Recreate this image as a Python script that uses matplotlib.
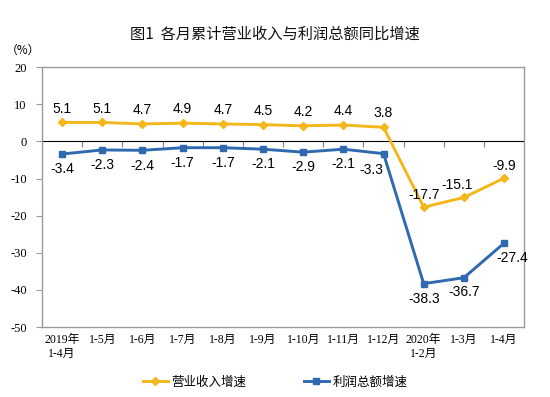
import matplotlib
matplotlib.use("Agg")
import matplotlib.pyplot as plt
import numpy as np

plt.rcParams['font.family'] = ['Noto Sans CJK SC', 'DejaVu Sans']

categories = ["2019年\n1-4月", "1-5月", "1-6月", "1-7月", "1-8月", "1-9月", "1-10月",
              "1-11月", "1-12月", "2020年\n1-2月", "1-3月", "1-4月"]
revenue = [5.1, 5.1, 4.7, 4.9, 4.7, 4.5, 4.2, 4.4, 3.8, -17.7, -15.1, -9.9]
profit = [-3.4, -2.3, -2.4, -1.7, -1.7, -2.1, -2.9, -2.1, -3.3, -38.3, -36.7, -27.4]
yticks = [20, 10, 0, -10, -20, -30, -40, -50]

# label offsets in points (dx, dy)
rev_off = [(0, 10)] * 9 + [(0, 9), (-5, 9), (0, 9)]
pro_off = [(0, -11)] * 8 + [(-9, -12), (0, -11), (0, -10), (6, -11)]

yellow = "#F4B71B"
blue = "#2F6AB1"
frame = "#9a9a9a"

fig = plt.figure(figsize=(5.5, 3.97), dpi=100)
ax = fig.add_axes([0.0764, 0.176, 0.8766, 0.655])
x = np.arange(len(categories))

ax.plot(x, revenue, color=yellow, lw=2.1, marker='D', ms=4.5, label="营业收入增速", zorder=3)
ax.plot(x, profit, color=blue, lw=2.1, marker='s', ms=4.5, label="利润总额增速", zorder=3)

for xi, v, (dx, dy) in zip(x, revenue, rev_off):
    ax.annotate(f"{v:.1f}", (xi, v), xytext=(dx, dy), textcoords='offset points',
                ha='center', va='center', fontsize=10, family=['Liberation Sans'])
for xi, v, (dx, dy) in zip(x, profit, pro_off):
    ax.annotate(f"{v:.1f}", (xi, v), xytext=(dx, dy), textcoords='offset points',
                ha='center', va='center', fontsize=10, family=['Liberation Sans'])

ax.set_xlim(-0.5, len(categories) - 0.5)
ax.set_ylim(-50, 20)
ax.set_yticks(yticks)
ax.set_yticklabels([str(t) for t in yticks], family=['Liberation Serif'], fontsize=9)
ax.set_xticks(x)
ax.set_xticklabels(categories, family=['Liberation Serif', 'Noto Sans CJK SC'], fontsize=8.5,
                   linespacing=1.2)
ax.tick_params(axis='x', length=0, pad=5)
ax.tick_params(axis='y', length=4, color=frame, direction='out', pad=7)
for s in ax.spines.values():
    s.set_color(frame)
    s.set_linewidth(1.0)

# zero axis with boundary ticks
frac = (0 - (-50)) / 70
sec = ax.secondary_xaxis(frac)
sec.set_xticks(np.arange(len(categories) - 1) + 0.5)
sec.set_xticklabels([])
sec.tick_params(direction='in', length=4, color="#808080")
sec.spines['bottom'].set_color("#808080")
sec.spines['bottom'].set_linewidth(1.0)

fig.text(0.5, 0.915, "图1  各月累计营业收入与利润总额同比增速", ha='center', va='center',
         fontsize=11, color='#111111')
fig.text(0.042, 0.872, "（%）", ha='center', va='center', fontsize=8.5)

fig.legend(loc='center', bbox_to_anchor=(0.5, 0.038), ncol=2, frameon=False,
           fontsize=9, handlelength=2.0, columnspacing=4.6, handletextpad=0.3)

fig.savefig("out.png", dpi=100)
